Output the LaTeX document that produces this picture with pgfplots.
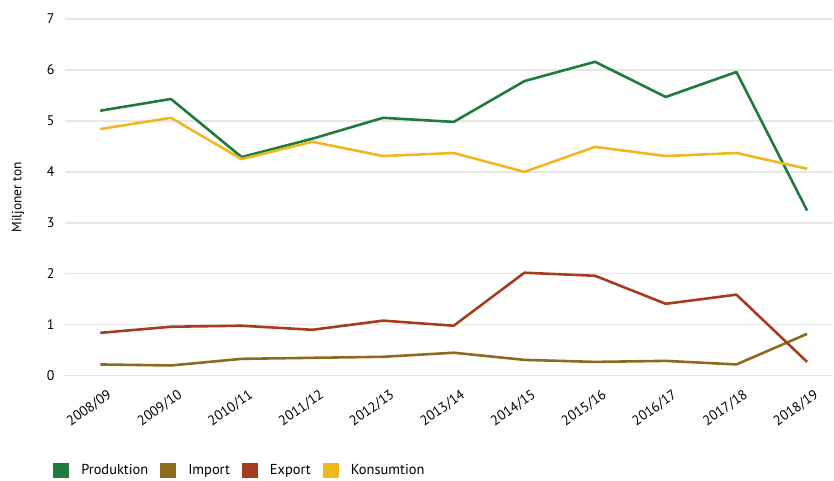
\documentclass[border=0pt]{standalone}
\usepackage{pgfplots}
\pgfplotsset{compat=1.18}
\usepackage{fontspec}
\setmainfont{PT Sans}

\definecolor{prod}{HTML}{1E7B3C}
\definecolor{imp}{HTML}{8C6A1E}
\definecolor{exp}{HTML}{A63C1E}
\definecolor{kons}{HTML}{F0B81E}
\definecolor{gridc}{HTML}{E6E6E6}

\begin{document}
\begin{tikzpicture}
\begin{axis}[
    scale only axis,
    width=769bp, height=357bp,
    xmin=-0.5, xmax=10.37,
    ymin=0, ymax=7,
    axis line style={draw=none},
    tick style={draw=none},
    ytick={0,1,...,7},
    xtick={0,...,10},
    xticklabels={2008/09,2009/10,2010/11,2011/12,2012/13,2013/14,2014/15,2015/16,2016/17,2017/18,2018/19},
    xticklabel style={rotate=35, anchor=north east, font=\fontsize{14}{15}\selectfont, yshift=-11bp, xshift=1bp},
    yticklabel style={font=\fontsize{14}{16}\selectfont, xshift=-7bp},
    /pgf/number format/assume math mode=true,
    ymajorgrids,
    grid style={gridc, line width=1.5pt},
    major tick length=0pt,
    ylabel={Miljoner ton},
    ylabel style={font=\fontsize{13.5}{15}\selectfont, at={(axis description cs:-0.061,0.5)}, anchor=center},
    clip=false,
    every axis plot/.append style={line width=2.6pt, line join=round, mark=none},
    legend columns=4,
    legend style={at={(axis description cs:-0.018,-0.265)}, anchor=west, draw=none,
        font=\fontsize{14.5}{16}\selectfont, column sep=10bp, inner sep=2bp},
    legend image code/.code={\fill[#1, draw=none] (0bp,-7.5bp) rectangle (16bp,7.5bp);},
]
\addplot[prod] coordinates {(0,5.20) (1,5.43) (2,4.29) (3,4.65) (4,5.06) (5,4.98) (6,5.78) (7,6.16) (8,5.47) (9,5.96) (10,3.24)};
\addlegendentry{Produktion}
\addplot[imp] coordinates {(0,0.22) (1,0.20) (2,0.33) (3,0.35) (4,0.37) (5,0.45) (6,0.31) (7,0.27) (8,0.29) (9,0.22) (10,0.82)};
\addlegendentry{Import}
\addplot[exp] coordinates {(0,0.84) (1,0.96) (2,0.98) (3,0.90) (4,1.08) (5,0.98) (6,2.02) (7,1.96) (8,1.41) (9,1.59) (10,0.27)};
\addlegendentry{Export}
\addplot[kons] coordinates {(0,4.84) (1,5.06) (2,4.25) (3,4.59) (4,4.31) (5,4.37) (6,4.00) (7,4.49) (8,4.31) (9,4.37) (10,4.06)};
\addlegendentry{Konsumtion}
\end{axis}
% keep the white margin above and left of the plot
\path ([yshift=19bp]current axis.north west) ([xshift=-65bp]current axis.south west);
\end{tikzpicture}
\end{document}
